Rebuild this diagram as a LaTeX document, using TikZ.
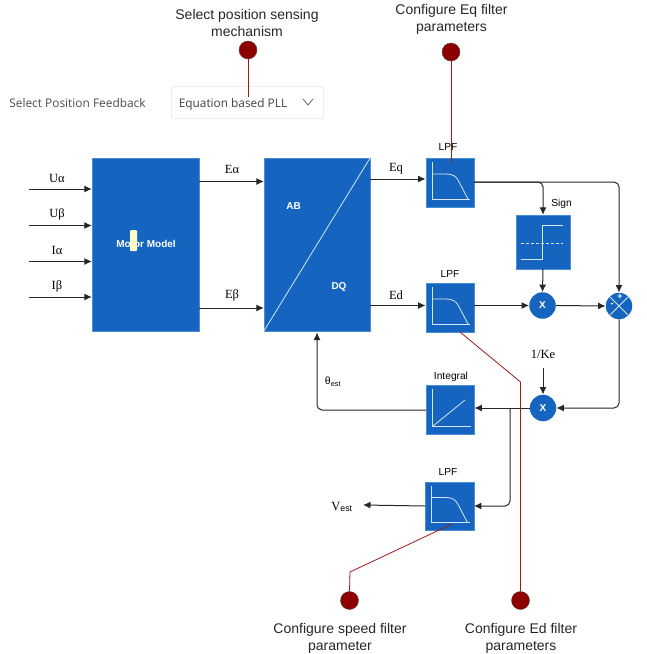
\documentclass[tikz,border=0pt]{standalone}
\usepackage{fontspec}
\setmainfont{Liberation Serif}
\setsansfont{Liberation Sans}
\newfontfamily\uifont{Open Sans}
\usetikzlibrary{arrows.meta,calc}
\definecolor{blockblue}{HTML}{1565C0}
\definecolor{blockedge}{HTML}{4A8FD6}
\definecolor{pinred}{HTML}{8E0000}
\definecolor{pinwire}{HTML}{A01818}
\definecolor{iconwhite}{HTML}{D6E6F8}
\tikzstyle{block}=[rectangle,
draw=blockedge,
fill=blockblue,
inner sep=0pt]
\tikzstyle{filter}=[block,
minimum size=48.5pt]
\tikzstyle{junction}=[circle,
fill=blockblue,
inner sep=0pt,
minimum size=26.5pt,
text=white,
font=\sffamily\bfseries\fontsize{10}{12}\selectfont]
\tikzstyle{pin}=[circle,
draw=black!70,
fill=pinred,
inner sep=0pt,
minimum size=18pt]
\tikzstyle{signal}=[inner sep=0pt,
font=\rmfamily\fontsize{12.5}{14}\selectfont]
\tikzstyle{title}=[inner sep=0pt,
font=\sffamily\fontsize{10.2}{12}\selectfont]
\tikzstyle{inside}=[inner sep=0pt,
text=white,
font=\sffamily\bfseries\fontsize{10}{12}\selectfont]
\tikzstyle{caption}=[inner sep=0pt,
align=center,
text=black!85,
font=\sffamily\fontsize{14}{17}\selectfont]
\tikzstyle{wire}=[->,black!85,line width=1pt,rounded corners=5pt]
\tikzstyle{pinline}=[pinwire,line width=0.8pt]
\tikzstyle{icon}=[iconwhite,line width=0.8pt]
\begin{document}
\begin{tikzpicture}[>={Latex[length=7.5pt,width=7pt]},x=1pt,y=-1pt]
	\useasboundingbox (0,0) rectangle (646,654);

	% Blocks
	\node (motor)  [block,minimum width=107pt,minimum height=173pt] at (145.5,244.5) {};
	\node (abdq)   [block,minimum width=106pt,minimum height=173pt] at (317,244.5) {};
	\node (lpf_q)  [filter] at (450,182.5) {};
	\node (lpf_d)  [filter] at (450,307.5) {};
	\node (sign)   [block,minimum size=54pt] at (543,242) {};
	\node (integ)  [filter] at (450,409.5) {};
	\node (lpf_s)  [filter] at (449.5,506) {};
	\node (mul_a)  [junction] at (542.5,305.5) {X};
	\node (mul_b)  [junction] at (543,408) {X};
	\node (sum)    [junction] at (619,306) {};

	% Texts inside the blocks
	\node (motor_t) [inside] at (146,244) {Motor Model};
	\fill[yellow!20,rounded corners=1pt] (130,230) rectangle (137,251);
	\node (ab_t) [inside] at (293.5,206) {AB};
	\node (dq_t) [inside] at (339,287) {DQ};
	\draw[icon] (abdq.south west) -- (abdq.north east);

	% Filter curves
	\foreach \flt in {lpf_q,lpf_d,lpf_s} {
		\draw[icon] ($(\flt.center)+(-18,-20.5)$) -- ($(\flt.center)+(-18,16.5)$) -- ($(\flt.center)+(20,16.5)$);
		\draw[icon] ($(\flt.center)+(-18,-8.5)$) -- ($(\flt.center)+(-4,-8.5)$)
		.. controls ($(\flt.center)+(3,-8.5)$) and ($(\flt.center)+(6,-6)$) .. ($(\flt.center)+(8,-2.5)$)
		-- ($(\flt.center)+(18,16.5)$);
	}
	% Integral ramp
	\draw[icon] ($(integ.center)+(-17.5,-20.5)$) -- ($(integ.center)+(-17.5,17)$) -- ($(integ.center)+(21,17)$);
	\draw[icon] ($(integ.center)+(-17.5,17)$) -- ($(integ.center)+(15,-9.5)$);
	% Sign step
	\draw[icon] ($(sign.center)+(-22,17.3)$) -- ($(sign.center)+(-1,17.3)$) -- ($(sign.center)+(-1,-16.3)$) -- ($(sign.center)+(20,-16.3)$);
	\draw[icon,dash pattern=on 3pt off 2pt] ($(sign.center)+(-22,1)$) -- ($(sign.center)+(20,1)$);
	% Summing point
	\draw[iconwhite,line width=0.8pt] (sum.north west) -- (sum.south east);
	\draw[iconwhite,line width=0.8pt] (sum.north east) -- (sum.south west);
	\node (sum_p) [inside,font=\sffamily\bfseries\fontsize{9}{10}\selectfont] at (620,296.5) {+};
	\node (sum_m) [inside,font=\sffamily\bfseries\fontsize{9}{10}\selectfont] at (612,305.5) {-};

	% Signal labels
	\node (l_ua) [signal] at (57,178) {Uα};
	\node (l_ub) [signal] at (57,214.5) {Uβ};
	\node (l_ia) [signal] at (57,250) {Iα};
	\node (l_ib) [signal] at (57,286) {Iβ};
	\node (l_ea) [signal] at (232,169) {Eα};
	\node (l_eb) [signal] at (232,295) {Eβ};
	\node (l_eq) [signal] at (396,169) {Eq};
	\node (l_ed) [signal] at (396,295.5) {Ed};
	\node (l_ke) [signal] at (543,354) {1/Ke};
	\node (l_th) [signal,font=\sffamily\fontsize{10.5}{12}\selectfont] at (333,382) {θ\textsubscript{est}};
	\node (l_ve) [signal] at (342,507) {V\textsubscript{\sffamily est}};
	\node (t_q)  [title] at (448,147) {LPF};
	\node (t_d)  [title] at (450,274) {LPF};
	\node (t_s)  [title] at (448,472) {LPF};
	\node (t_i)  [title] at (451,377) {Integral};
	\node (t_g)  [title] at (561.5,204) {Sign};

	% Free ends of the wires
	\coordinate (in_ua) at (29,189);
	\coordinate (in_ub) at (29,225.5);
	\coordinate (in_ia) at (29,261.5);
	\coordinate (in_ib) at (29,297);
	\coordinate (e_a) at (199,181.5);
	\coordinate (e_b) at (199,308);
	\coordinate (e_q) at (370,179);
	\coordinate (e_d) at (370,305.5);
	\coordinate (q_out) at (474,182);
	\coordinate (i_out) at (426,410);
	\coordinate (th_in) at (317,332.5);
	\coordinate (ke_in) at (543,368);
	\coordinate (ve_out) at (363,505);
	\coordinate (tap) at (510,408);

	% Wires
	\draw[wire] (in_ua) -- (in_ua -| motor.west);
	\draw[wire] (in_ub) -- (in_ub -| motor.west);
	\draw[wire] (in_ia) -- (in_ia -| motor.west);
	\draw[wire] (in_ib) -- (in_ib -| motor.west);
	\draw[wire] (e_a) -- (e_a -| abdq.west);
	\draw[wire] (e_b) -- (e_b -| abdq.west);
	\draw[wire] (e_q) -- (e_q -| lpf_q.west);
	\draw[wire] (e_d) -- (e_d -| lpf_d.west);
	\draw[wire] (q_out) -| (sign.north);
	\draw[wire] (q_out) -| (sum.north);
	\draw[wire] (sign.south) -- (mul_a.north);
	\draw[wire] (lpf_d.east |- mul_a.west) -- (mul_a.west);
	\draw[wire] (mul_a.east) -- (sum.west);
	\draw[wire] (sum.south) |- (mul_b.east);
	\draw[wire] (ke_in) -- (mul_b.north);
	\draw[wire] (mul_b.west) -- (mul_b.west -| integ.east);
	\draw[wire] (i_out) -| (th_in);
	\draw[wire] (tap) |- (lpf_s.east);
	\draw[wire] (lpf_s.west) -- (ve_out);

	% Configuration pins
	\node (pin_sense) [pin] at (248,50) {};
	\node (pin_q)     [pin] at (451,52) {};
	\node (pin_s)     [pin] at (349.5,600.5) {};
	\node (pin_d)     [pin] at (520.5,600.5) {};
	\node (cap_sense) [caption] at (247,22.5) {Select position sensing\\mechanism};
	\node (cap_q)     [caption] at (451.5,19.5) {Configure Eq filter\\parameters};
	\node (cap_s)     [caption] at (340,638.5) {Configure speed filter\\parameter};
	\node (cap_d)     [caption] at (521,638.5) {Configure Ed filter\\parameters};

	% Selection box
	\node (sel_l) [inner sep=0pt,text=black!70,font=\uifont\fontsize{11.9}{14}\selectfont] at (77.5,103.5) {Select Position Feedback};
	\node (sel) [rectangle,draw=black!20,rounded corners=2pt,minimum width=152pt,minimum height=31.5pt,inner sep=0pt] at (247.5,102.5) {};
	\node (sel_t) [inner sep=0pt,text=black!75,font=\uifont\fontsize{11.85}{14}\selectfont] at (233,104.5) {Equation based PLL};
	\coordinate (chev) at (308,102);
	\draw[black!60,line width=0.8pt] ($(chev)+(-5,-3)$) -- ($(chev)+(0,3)$) -- ($(chev)+(5,-3)$);

	% Lines from the pins
	\coordinate (sense_end) at (248,97);
	\draw[pinline] (pin_sense.south) -- (sense_end);
	\coordinate (q_end) at (451,162);
	\draw[pinline] (pin_q.south) -- (q_end);
	\coordinate (d_start) at (460,332);
	\coordinate (d_bend) at (520.5,382);
	\draw[pinline] (d_start) -- (d_bend) -- (pin_d.north);
	\coordinate (s_start) at (452,524);
	\coordinate (s_bend) at (350,572);
	\draw[pinline] (s_start) -- (s_bend) -- (pin_s.north);
\end{tikzpicture}
\end{document}
